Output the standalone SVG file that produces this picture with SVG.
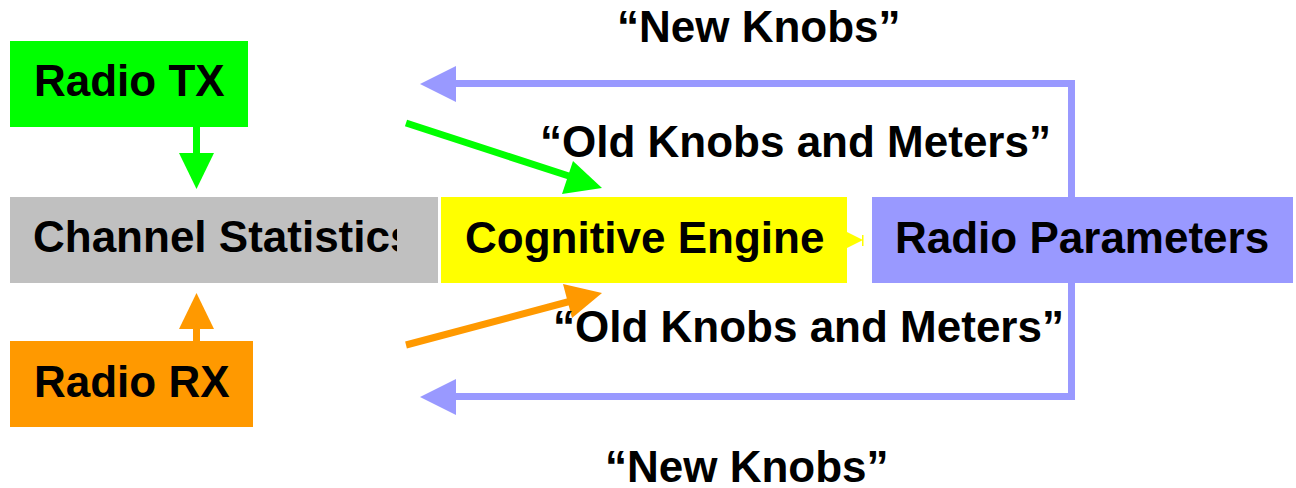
<svg xmlns="http://www.w3.org/2000/svg" width="1296" height="488" viewBox="0 0 1296 488">
<style>
text { font-family: "Liberation Sans", Arial, sans-serif; font-weight: bold; fill: #000; }
.node { font-size: 44px; }
.lbl { font-size: 44px; }
.blue { stroke: #9999FF; stroke-width: 7; fill: none; }
</style>
<defs>
<clipPath id="clipCS"><rect x="10" y="197" width="387" height="86"/></clipPath>
</defs>
<rect width="1296" height="488" fill="#fff"/>
<g id="connectors">
  <polyline class="blue" points="452,83.5 1071.5,83.5 1071.5,396.5 452,396.5"/>
  <polygon points="420,84 456,66 456,102" fill="#9999FF"/>
  <polygon points="420,397 456,379 456,415" fill="#9999FF"/>
  <rect x="193" y="127" width="7" height="28" fill="#00FF00"/>
  <polygon points="179,153 214,153 196.5,189" fill="#00FF00"/>
  <rect x="193" y="327" width="7" height="14" fill="#FF9900"/>
  <polygon points="179,329 214,329 196.5,293" fill="#FF9900"/>
  <line x1="406" y1="123" x2="575" y2="178" stroke="#00FF00" stroke-width="7"/>
  <polygon points="602,188 573,161 562,194" fill="#00FF00"/>
  <line x1="406" y1="345" x2="575" y2="300" stroke="#FF9900" stroke-width="7"/>
  <polygon points="602,293 563,284 572,318" fill="#FF9900"/>
  <polygon points="847,232 863,240 847,248" fill="#FFFF00"/>
  <rect x="862" y="235" width="1.5" height="11" fill="#FFFF00"/>
</g>
<g id="radio-tx">
  <rect x="10" y="41" width="238" height="86" fill="#00FF00"/>
  <text class="node" x="34" y="96">Radio TX</text>
</g>
<g id="channel-statistics">
  <rect x="10" y="197" width="428" height="86" fill="#C0C0C0"/>
  <text class="node" x="33" y="252" clip-path="url(#clipCS)">Channel Statistics</text>
</g>
<g id="radio-rx">
  <rect x="10" y="341" width="243" height="86" fill="#FF9900"/>
  <text class="node" x="34" y="397">Radio RX</text>
</g>
<g id="cognitive-engine">
  <rect x="441" y="197" width="406" height="86" fill="#FFFF00"/>
  <text class="node" x="465" y="253">Cognitive Engine</text>
</g>
<g id="radio-parameters">
  <rect x="872" y="197" width="421" height="86" fill="#9999FF"/>
  <text class="node" x="895" y="253">Radio Parameters</text>
</g>
<g id="labels">
  <text class="lbl" x="617" y="42">“New Knobs”</text>
  <text class="lbl" x="540" y="157">“Old Knobs and Meters”</text>
  <text class="lbl" x="553" y="342">“Old Knobs and Meters”</text>
  <text class="lbl" x="605" y="482">“New Knobs”</text>
</g>
</svg>
